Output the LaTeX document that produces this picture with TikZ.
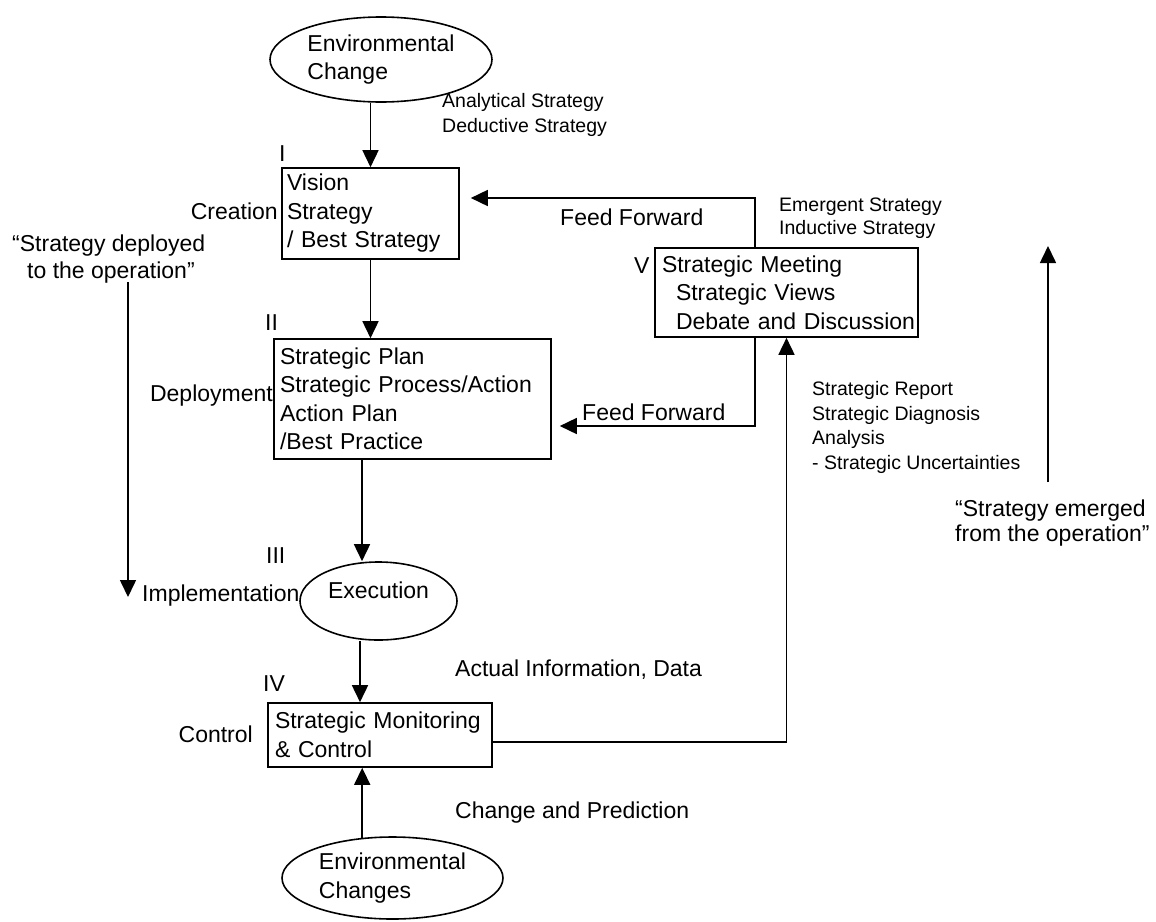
\documentclass[tikz,border=0pt]{standalone}
\usepackage{fontspec}
\setmainfont{Liberation Sans}
\usetikzlibrary{arrows.meta,shapes.geometric}
\newcommand\mainsize{\fontsize{23pt}{28.5pt}\selectfont}
\newcommand\smallsize{\fontsize{19.5pt}{24.5pt}\selectfont}
\tikzset{
  arr/.style={-{Triangle[length=17pt,width=16pt]}, line width=1.6pt},
  box/.style={draw, rectangle, line width=1.6pt, inner ysep=0pt, align=left, font=\mainsize},
  ell/.style={draw, ellipse, line width=1.6pt, inner sep=0pt, align=left, font=\mainsize},
  lbl/.style={inner sep=0pt, font=\mainsize, align=left},
  slbl/.style={inner sep=0pt, font=\smallsize, align=left}
}
\begin{document}
\begin{tikzpicture}[x=1pt,y=-1pt]
\useasboundingbox (0,0) rectangle (1156,921);
% main nodes
\node[ell, minimum width=222pt, minimum height=85pt] (envtop) at (381,59.5) {Environmental\\Change};
\node[box, minimum height=91pt, inner xsep=5pt, text width=167pt] (boxI) at (370.5,213.5) {\mbox{Vision}\\\mbox{Strategy}\\\mbox{/ Best Strategy}};
\node[box, minimum height=120pt, inner xsep=6pt, text width=265pt] (boxII) at (412.5,399) {\mbox{Strategic Plan}\\\mbox{Strategic Process/Action}\\\mbox{Action Plan}\\\mbox{/Best Practice}};
\node[box, minimum height=89pt, inner xsep=7pt, text width=249pt] (boxV) at (786.5,292.5) {\mbox{Strategic Meeting}\\\mbox{\hspace*{14pt}Strategic Views}\\\mbox{\hspace*{14pt}Debate and Discussion}};
\node[ell, minimum width=157pt, minimum height=78pt, text height=17pt, text depth=22pt] (exec) at (378.5,601) {Execution};
\node[box, minimum height=64pt, inner xsep=7pt, text width=210pt] (boxIV) at (380,735) {\mbox{Strategic Monitoring}\\\mbox{\& Control}};
\node[ell, minimum width=221pt, minimum height=82pt] (envbot) at (392.5,878) {Environmental\\Changes};
% numerals and stage labels
\node[lbl, anchor=base west] (nI) at (279,161.2) {I};
\node[lbl, anchor=base west] (nII) at (265,330.2) {II};
\node[lbl, anchor=base west] (nIII) at (266,563.2) {III};
\node[lbl, anchor=base west] (nIV) at (263,691.2) {IV};
\node[lbl, anchor=base west] (nV) at (634,273.2) {V};
\node[lbl, anchor=base east] (creation) at (278,219.2) {Creation};
\node[lbl, anchor=base east] (deployment) at (273,401.2) {Deployment};
\node[lbl, anchor=base west] (implementation) at (142,601.2) {Implementation};
\node[lbl, anchor=base east] (control) at (253,742.2) {Control};
% other labels (base anchor = last line)
\node[lbl, anchor=base west] (ff1) at (560,225.2) {Feed Forward};
\node[lbl, anchor=base west] (ff2) at (582,420.2) {Feed Forward};
\node[lbl, anchor=base west] (deployed) at (12,278.2) {“Strategy deployed\\[-1.5pt]\hspace*{15pt}to the operation”};
\node[lbl, anchor=base west] (emerged) at (955,541.2) {“Strategy emerged\\[-3.5pt]from the operation”};
\node[lbl, anchor=base west] (actual) at (455,676.2) {Actual Information, Data};
\node[lbl, anchor=base west] (change) at (455,818.2) {Change and Prediction};
\node[slbl, anchor=base west] (analytical) at (442,132) {Analytical Strategy\\Deductive Strategy};
\node[slbl, anchor=base west] (emergent) at (779,234) {Emergent Strategy\\[-1.5pt]Inductive Strategy};
\node[slbl, anchor=base west] (report) at (812,469) {Strategic Report\\Strategic Diagnosis\\Analysis\\- Strategic Uncertainties};
% helper coordinates
\coordinate (cA) at (362,0);
\coordinate (cB) at (360,0);
\coordinate (cF) at (755,0);
\coordinate (ld1) at (128,282);
\coordinate (ld2) at (128,597);
\coordinate (re1) at (1048,482);
\coordinate (re2) at (1048,246);
% connectors
\draw[arr] (envtop.south -| boxI.north) -- (boxI.north);
\draw[arr] (boxI.south) -- (boxI.south |- boxII.north);
\draw[arr] (boxII.south -| cA) -- (exec.north -| cA);
\draw[arr] (exec.south -| cB) -- (boxIV.north -| cB);
\draw[arr] (envbot.127) -- (boxIV.south -| envbot.127);
\draw[arr] ([yshift=-7pt]boxIV.east) -| (boxV.south);
\draw[arr, shorten >=11pt] (boxV.north -| cF) |- ([yshift=15.5pt]boxI.east);
\draw[arr, shorten >=8pt] (boxV.south -| cF) |- ([yshift=-27pt]boxII.east);
\draw[arr] (ld1) -- (ld2);
\draw[arr] (re1) -- (re2);
\end{tikzpicture}
\end{document}
